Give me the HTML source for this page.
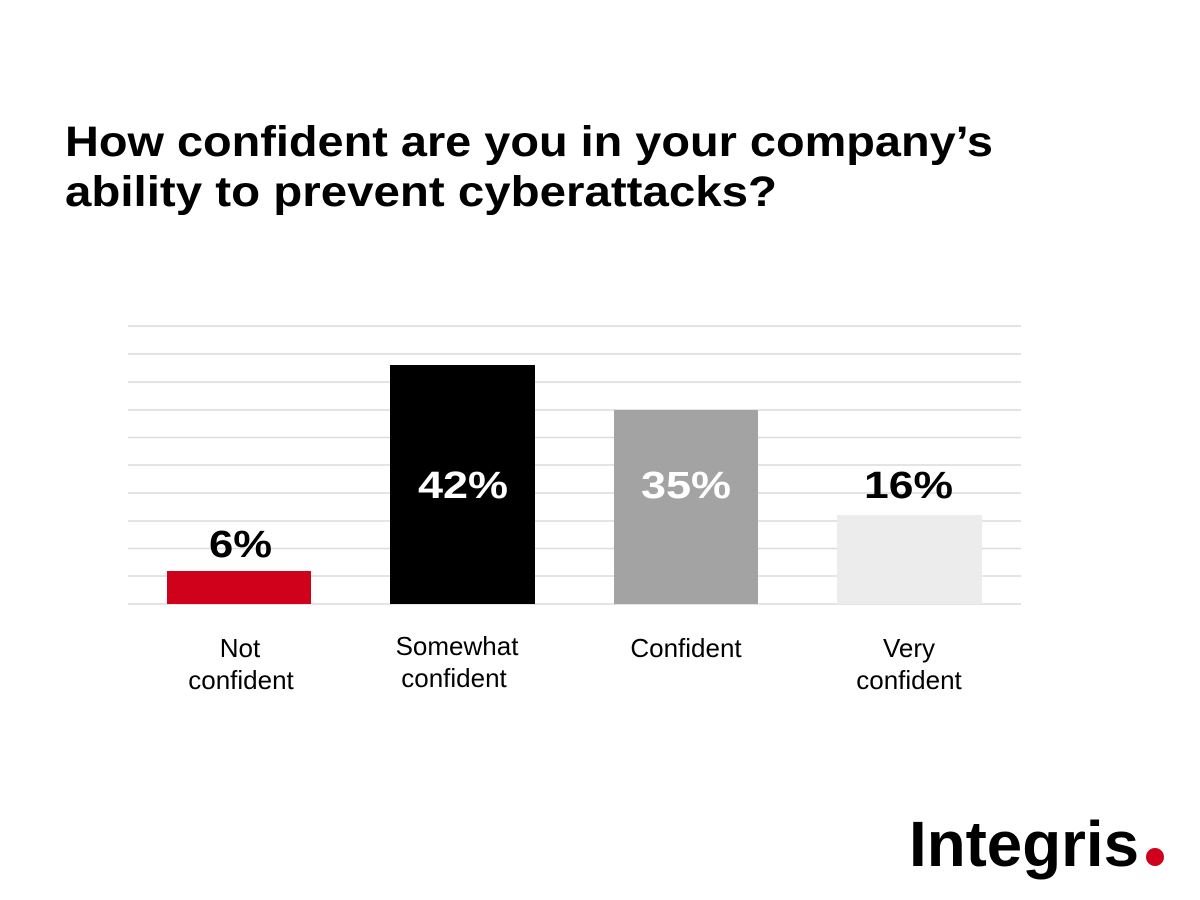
<!DOCTYPE html>
<html><head><meta charset="utf-8"><style>
html,body{margin:0;padding:0;background:#fff;}
svg{display:block;}
text{font-family:"Liberation Sans",Arial,sans-serif;}
</style></head><body>
<svg width="1200" height="900" viewBox="0 0 1200 900" xmlns="http://www.w3.org/2000/svg">
<rect width="1200" height="900" fill="#fff"/>
<text x="65" y="156" font-size="43" font-weight="bold" fill="#000" textLength="928" lengthAdjust="spacingAndGlyphs">How confident are you in your company’s</text>
<text x="65" y="206" font-size="43" font-weight="bold" fill="#000" textLength="712" lengthAdjust="spacingAndGlyphs">ability to prevent cyberattacks?</text>
<g stroke="#dcdcdc" stroke-width="1.5">
<line x1="128" x2="1021" y1="326" y2="326"/>
<line x1="128" x2="1021" y1="354" y2="354"/>
<line x1="128" x2="1021" y1="382" y2="382"/>
<line x1="128" x2="1021" y1="410" y2="410"/>
<line x1="128" x2="1021" y1="437.5" y2="437.5"/>
<line x1="128" x2="1021" y1="465" y2="465"/>
<line x1="128" x2="1021" y1="493" y2="493"/>
<line x1="128" x2="1021" y1="521" y2="521"/>
<line x1="128" x2="1021" y1="548.5" y2="548.5"/>
<line x1="128" x2="1021" y1="576" y2="576"/>
<line x1="128" x2="1021" y1="604" y2="604"/>
</g>
<rect x="167" y="571" width="144" height="33" fill="#d0021b"/>
<rect x="390" y="365" width="145" height="239" fill="#000"/>
<rect x="614" y="410" width="144" height="194" fill="#a3a3a3"/>
<rect x="837" y="515" width="145" height="89" fill="#ececec"/>
<g font-size="38" font-weight="bold">
<text x="209" y="557" fill="#000" textLength="63" lengthAdjust="spacingAndGlyphs">6%</text>
<text x="418" y="498" fill="#fff" textLength="90" lengthAdjust="spacingAndGlyphs">42%</text>
<text x="641" y="498" fill="#fff" textLength="90" lengthAdjust="spacingAndGlyphs">35%</text>
<text x="864" y="498" fill="#000" textLength="89" lengthAdjust="spacingAndGlyphs">16%</text>
</g>
<g font-size="26" text-anchor="middle" fill="#000">
<text x="240" y="657">Not</text>
<text x="241" y="689">confident</text>
<text x="457" y="655">Somewhat</text>
<text x="454" y="687">confident</text>
<text x="686" y="657">Confident</text>
<text x="909" y="657">Very</text>
<text x="909" y="689">confident</text>
</g>
<text x="909" y="866" font-size="64" font-weight="bold" fill="#000" textLength="230" lengthAdjust="spacingAndGlyphs">Integris</text>
<circle cx="1155" cy="857" r="9" fill="#d0021b"/>
</svg>
</body></html>
